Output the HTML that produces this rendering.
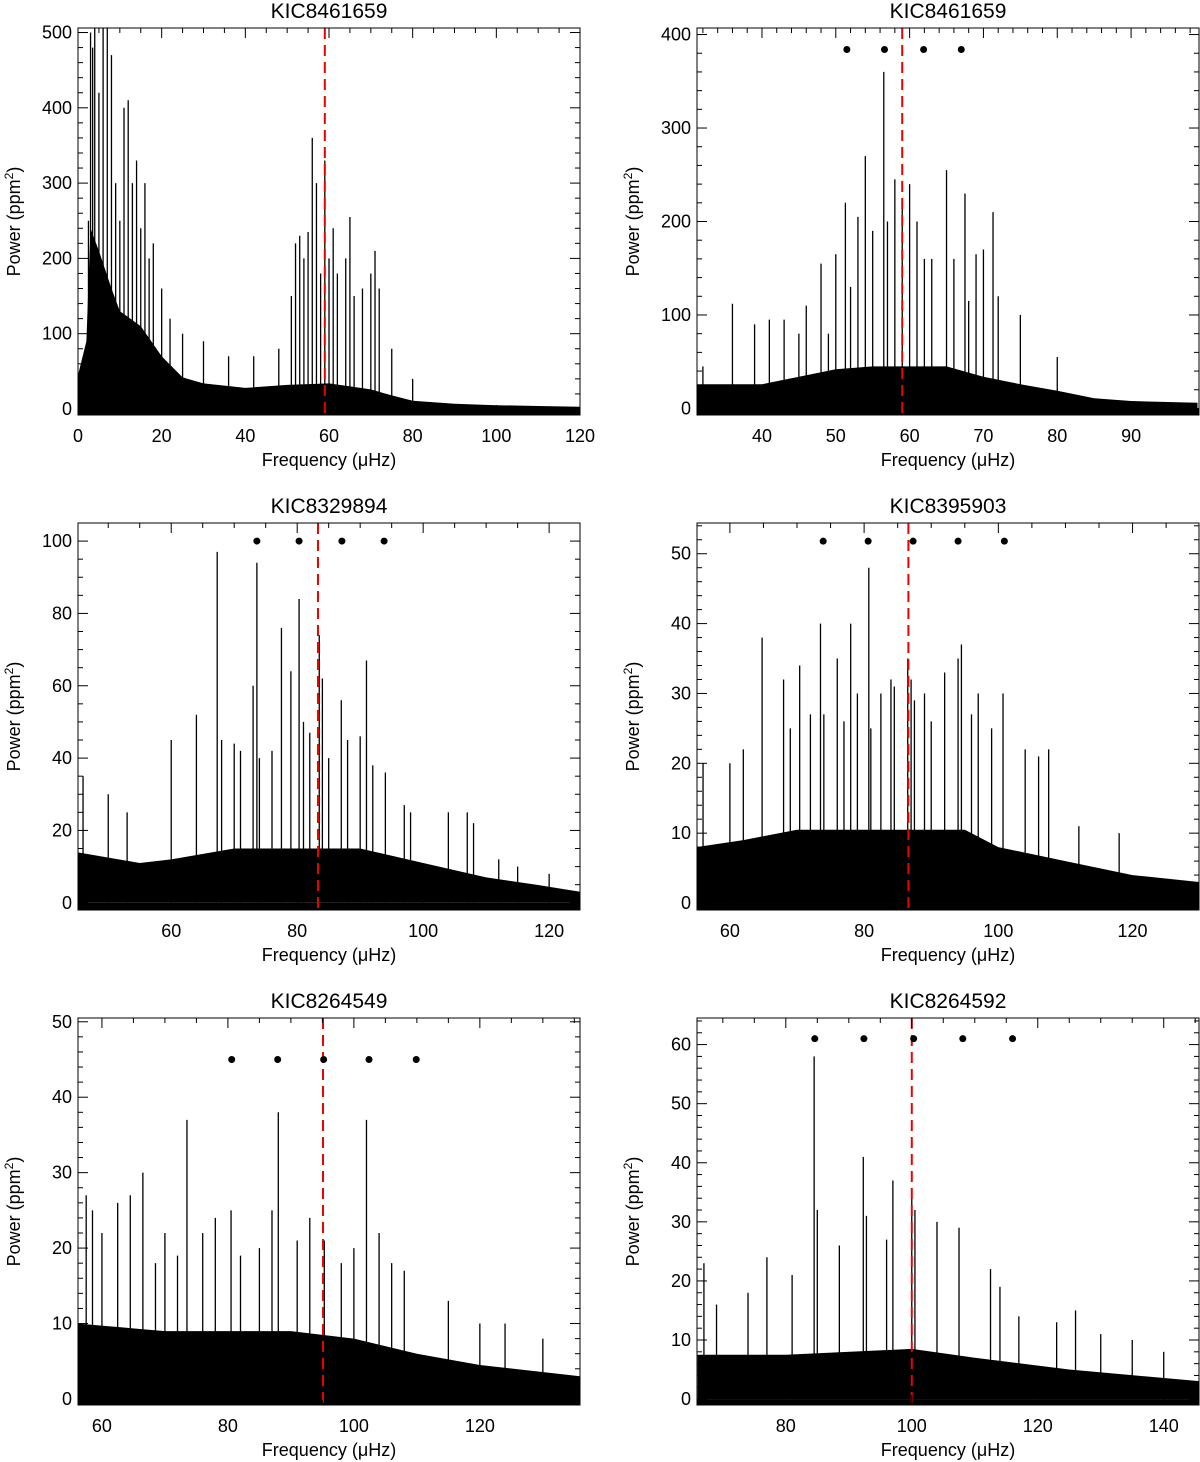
<!DOCTYPE html>
<html><head><meta charset="utf-8">
<style>
body{margin:0;background:#fff;}
svg{display:block;font-family:"Liberation Sans","DejaVu Sans",sans-serif;}
</style></head>
<body>
<svg id="chart" width="1200" height="1462" viewBox="0 0 1200 1462" xmlns="http://www.w3.org/2000/svg"></svg>
<script>
// ---- data ----
const titles = ["KIC8461659","KIC8461659","KIC8329894","KIC8395903","KIC8264549","KIC8264592"];
const numaxValues = [59, 59, 83.3, 86.6, 95.1, 100.0];
const p1Ticks = [0,20,40,60,80,100,120];
const p2Ticks = [40,50,60,70,80,90];
const p3Ticks = [60,80,100,120];
const p4Ticks = [60,80,100,120];
const p5Ticks = [60,80,100,120];
const p6Ticks = [80,100,120,140];
const p1YTicks = [0,100,200,300,400,500];
const p2YTicks = [0,100,200,300,400];
const p3YTicks = [0,20,40,60,80,100];
const p4YTicks = [0,10,20,30,40,50];
const p5YTicks = [0,10,20,30,40,50];
const p6YTicks = [0,10,20,30,40,50,60];
const p2Dots = [51.5,56.6,61.9,67.0];
const p3Dots = [73.6,80.3,87.1,93.8];
const p4Dots = [73.9,80.6,87.3,94.0,100.9];
const p5Dots = [80.6,87.9,95.2,102.4,109.9];
const p6Dots = [84.6,92.4,100.3,108.1,116.0];
const dotLevels = [null, 384, 100, 51.8, 45, 61];
const p1Env = [[0,45],[2,90],[3,240],[5,210],[8,160],[10,130],[15,110],[20,70],[25,42],[30,34],[40,28],[50,32],[60,34],[70,26],[75,18],[80,11],[90,7],[100,5],[110,4],[120,3]];
const p1Peaks = [[2.5,250],[3,500],[3.5,480],[4,520],[5,420],[6,520],[7,520],[8,470],[9,300],[10,250],[11,400],[12,410],[13,300],[14,330],[15,240],[16,300],[17,200],[18,220],[20,160],[22,120],[25,100],[30,90],[36,70],[42,70],[48,80],[51,150],[52,220],[53,230],[54,200],[55,235],[56,360],[57,300],[58,180],[59,330],[60,200],[61,240],[62,180],[64,200],[65,255],[66,150],[68,160],[70,180],[71,210],[72,160],[75,80],[80,40]];
const p2Env = [[31,26],[40,26],[45,34],[50,42],[55,45],[65,45],[70,34],[75,26],[80,19],[85,11],[90,8],[99,6]];
const p2Peaks = [[32,45],[36,112],[39,90],[41,95],[43,95],[45,80],[46,110],[48,155],[49,80],[50,165],[51.3,220],[52,130],[53,205],[54,270],[55,190],[56.5,360],[57,200],[58,245],[59,215],[60,240],[61,200],[62,160],[63,160],[65,255],[66,160],[67.5,230],[68,115],[69,165],[70,170],[71.3,210],[72,120],[75,100],[80,55]];
const p3Env = [[45,14],[55,11],[60,12],[70,15],[90,15],[100,11],[110,7],[118,5],[125,3]];
const p3Peaks = [[46,35],[50,30],[53,25],[60,45],[64,52],[67.3,97],[68,45],[70,44],[71,42],[73,60],[73.6,94],[74,40],[76,42],[77.5,76],[79,64],[80.3,84],[81,50],[82,47],[83.5,74],[84,62],[85,40],[87,56],[88,45],[90,46],[91,67],[92,38],[94,36],[97,27],[98,25],[104,25],[107,25],[108,22],[112,12],[115,10],[120,8]];
const p4Env = [[55,8],[62,9],[70,10.5],[95,10.5],[100,8],[110,6],[120,4],[130,3]];
const p4Peaks = [[56,20],[60,20],[62,22],[64.8,38],[68,32],[69,25],[70.4,34],[72,27],[73.5,40],[74,27],[76,35],[77,26],[78,40],[79,30],[80.7,48],[81,25],[82.5,30],[84,32],[84.5,31],[86.5,35],[87,32],[87.5,29],[89,30],[90,26],[92,33],[94,35],[94.5,37],[96,27],[97,30],[99,25],[100.7,30],[104,22],[106,21],[107.5,22],[112,11],[118,10]];
const p5Env = [[56,10],[70,9],[90,9],[100,8],[110,6],[120,4.5],[136,3]];
const p5Peaks = [[57.5,27],[58.5,25],[60,22],[62.5,26],[64.5,27],[66.5,30],[68.5,18],[70,22],[72,19],[73.5,37],[76,22],[78,24],[80.5,25],[82,19],[85,20],[87,25],[88,38],[91,21],[93,24],[95.3,21],[98,18],[100,20],[102,37],[104,22],[106,18],[108,17],[115,13],[120,10],[124,10],[130,8]];
const p6Env = [[66,7.5],[80,7.5],[100,8.5],[110,7],[125,5],[146,3]];
const p6Peaks = [[67,23],[69,16],[74,18],[77,24],[81,21],[84.5,58],[85,32],[88.5,26],[92.3,41],[92.8,31],[96,27],[97,37],[100,35],[100.5,32],[104,30],[107.5,29],[112.5,22],[114,19],[117,14],[123,13],[126,15],[130,11],[135,10],[140,8]];

// ---- layout ----
const panels = [
 {x0:78,x1:580,y0:28,y1:415,xmin:0,xmax:120,ymin:-8,ymax:506,xt:p1Ticks,yt:p1YTicks,xm:5,ym:20,env:p1Env,pk:p1Peaks,dots:null},
 {x0:697,x1:1199,y0:28,y1:415,xmin:31.2,xmax:99.2,ymin:-7,ymax:407,xt:p2Ticks,yt:p2YTicks,xm:2,ym:20,env:p2Env,pk:p2Peaks,dots:p2Dots},
 {x0:78,x1:580,y0:523,y1:910,xmin:45.2,xmax:124.9,ymin:-2,ymax:105,xt:p3Ticks,yt:p3YTicks,xm:5,ym:5,env:p3Env,pk:p3Peaks,dots:p3Dots},
 {x0:697,x1:1199,y0:523,y1:910,xmin:55.1,xmax:129.9,ymin:-1,ymax:54.4,xt:p4Ticks,yt:p4YTicks,xm:5,ym:2,env:p4Env,pk:p4Peaks,dots:p4Dots},
 {x0:78,x1:580,y0:1018,y1:1405,xmin:56.2,xmax:135.9,ymin:-0.8,ymax:50.5,xt:p5Ticks,yt:p5YTicks,xm:5,ym:2,env:p5Env,pk:p5Peaks,dots:p5Dots},
 {x0:697,x1:1199,y0:1018,y1:1405,xmin:65.9,xmax:145.6,ymin:-1,ymax:64.5,xt:p6Ticks,yt:p6YTicks,xm:5,ym:2,env:p6Env,pk:p6Peaks,dots:p6Dots}
];
const NS="http://www.w3.org/2000/svg";
const svg=document.getElementById('chart');
function mk(tag,attrs,parent){const e=document.createElementNS(NS,tag);for(const k in attrs)e.setAttribute(k,attrs[k]);(parent||svg).appendChild(e);return e;}

panels.forEach((p,i)=>{
  const g=mk('g',{});
  
  
  const sx=v=>p.x0+(v-p.xmin)/(p.xmax-p.xmin)*(p.x1-p.x0);
  const sy=v=>p.y1-(v-p.ymin)/(p.ymax-p.ymin)*(p.y1-p.y0);
  const cp=mk('clipPath',{id:'clip'+i},g);
  mk('rect',{x:p.x0,y:p.y0,width:p.x1-p.x0,height:p.y1-p.y0},cp);
  const plot=mk('g',{'clip-path':'url(#clip'+i+')'},g);
  let d='M'+sx(p.env[0][0])+','+sy(0);
  p.env.forEach(e=>{d+=' L'+sx(e[0]).toFixed(1)+','+sy(e[1]).toFixed(1);});
  d+=' L'+sx(p.env[p.env.length-1][0])+','+sy(0)+' Z';
  const env=mk('path',{d:d,fill:'#000'},plot);
  
  
  mk('rect',{x:p.x0,y:sy(0),width:p.x1-p.x0,height:p.y1-sy(0),fill:'#000'},plot);
  p.pk.forEach(k=>{
    const l=mk('line',{x1:sx(k[0]),x2:sx(k[0]),y1:sy(0),y2:sy(k[1]),stroke:'#000','stroke-width':1.3},plot);
    
    
  });
  const nl=mk('line',{x1:sx(numaxValues[i]),x2:sx(numaxValues[i]),y1:p.y0,y2:p.y1,stroke:'#e00','stroke-width':2,'stroke-dasharray':'11,6'},plot);
  
  
  if(p.dots){p.dots.forEach(f=>{
    const c=mk('circle',{cx:sx(f),cy:sy(dotLevels[i]),r:3.5,fill:'#000'},g);
    
    
  });}
  const box=mk('rect',{x:p.x0,y:p.y0,width:p.x1-p.x0,height:p.y1-p.y0,fill:'none',stroke:'#000','stroke-width':1},g);
  
  
  for(let v=Math.ceil(p.xmin/p.xm)*p.xm;v<=p.xmax;v+=p.xm){
    const isMaj=p.xt.some(t=>Math.abs(t-v)<1e-6);const L=isMaj?10:5;const x=sx(v);
    mk('line',{x1:x,x2:x,y1:p.y1,y2:p.y1-L,stroke:'#000'},g);
    mk('line',{x1:x,x2:x,y1:p.y0,y2:p.y0+L,stroke:'#000'},g);
  }
  for(let v=Math.ceil(p.ymin/p.ym)*p.ym;v<=p.ymax;v+=p.ym){
    const isMaj=p.yt.some(t=>Math.abs(t-v)<1e-6);const L=isMaj?10:5;const y=sy(v);
    mk('line',{x1:p.x0,x2:p.x0+L,y1:y,y2:y,stroke:'#000'},g);
    mk('line',{x1:p.x1,x2:p.x1-L,y1:y,y2:y,stroke:'#000'},g);
  }
  p.xt.forEach(v=>{
    const t=mk('text',{x:sx(v),y:p.y1+27,'text-anchor':'middle','font-size':18},g);t.textContent=v;
    
    
  });
  p.yt.forEach(v=>{
    const t=mk('text',{x:p.x0-6,y:sy(v)+6,'text-anchor':'end','font-size':18},g);t.textContent=v;
    
    
  });
  const tt=mk('text',{x:(p.x0+p.x1)/2,y:p.y0-10,'text-anchor':'middle','font-size':21},g);tt.textContent=titles[i];
  
  
  const xl=mk('text',{x:(p.x0+p.x1)/2,y:p.y1+51,'text-anchor':'middle','font-size':18},g);xl.textContent='Frequency (\u03bcHz)';
  
  
  const ylx=(i%2===0?20:639);const yly=(p.y0+p.y1)/2;
  const yl=mk('text',{x:ylx,y:yly,'text-anchor':'middle','font-size':18,transform:'rotate(-90 '+ylx+' '+yly+')'},g);
  yl.innerHTML='Power (ppm<tspan dy="-7" font-size="12">2</tspan><tspan dy="7">)</tspan>';
  
  
});
</script>
</body></html>
